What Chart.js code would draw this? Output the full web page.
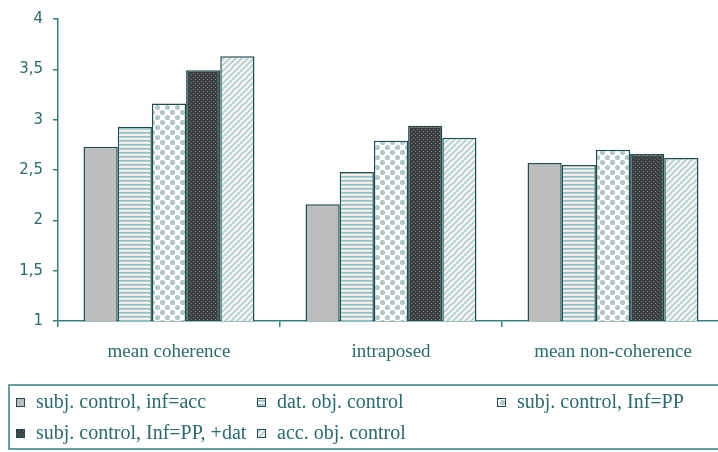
<!DOCTYPE html>
<html lang="en">
<head>
    <meta charset="utf-8">
    <title>coherence chart</title>
    <style>
        html, body { margin: 0; padding: 0; background: #fff; overflow: hidden; }
        #wrap { width: 728px; height: 452px; }
    </style>
</head>
<body>
    <div id="wrap"><canvas id="myChart" width="728" height="452"></canvas></div>

    <script src="https://cdn.jsdelivr.net/npm/chart.js"></script>
    <script>
        // data
        const categories = ['mean coherence', 'intraposed', 'mean non-coherence'];
        const seriesNames = [
            'subj. control, inf=acc',
            'dat. obj. control',
            'subj. control, Inf=PP',
            'subj. control, Inf=PP, +dat',
            'acc. obj. control'
        ];
        const subjInfAcc   = [2.73, 2.16, 2.57];
        const datObj       = [2.93, 2.48, 2.55];
        const subjInfPP    = [3.16, 2.79, 2.70];
        const subjInfPPDat = [3.49, 2.94, 2.66];
        const accObj       = [3.63, 2.82, 2.62];
        const yMin = 1, yMax = 4, yStep = 0.5;

        const lineColor = '#34807f';
        const textColor = '#2a6b6b';
        const edgeColor = '#1d4d4d';

        function makePattern(w, h, paint) {
            var c = document.createElement('canvas');
            c.width = w; c.height = h;
            var g = c.getContext('2d');
            paint(g, w, h);
            return g.createPattern(c, 'repeat');
        }

        var fills = [
            '#bdbdbd',
            makePattern(4, 4, function (g) {
                g.fillStyle = '#fbeaea'; g.fillRect(0, 0, 4, 4);
                g.fillStyle = '#86c4c4'; g.fillRect(0, 0, 4, 1.6);
            }),
            makePattern(10, 10, function (g) {
                g.fillStyle = '#ffffff'; g.fillRect(0, 0, 10, 10);
                g.fillStyle = '#b4c6c6';
                g.beginPath(); g.arc(2.5, 2.5, 2.6, 0, Math.PI * 2); g.fill();
                g.beginPath(); g.arc(7.5, 7.5, 2.6, 0, Math.PI * 2); g.fill();
            }),
            makePattern(4, 4, function (g) {
                g.fillStyle = '#2c4848'; g.fillRect(0, 0, 4, 4);
                g.fillStyle = '#d84a4a';
                g.fillRect(1, 1, 1, 1);
                g.fillRect(3, 3, 1, 1);
            }),
            makePattern(6, 6, function (g) {
                g.fillStyle = '#fbf0f0'; g.fillRect(0, 0, 6, 6);
                g.strokeStyle = '#a9d4d4'; g.lineWidth = 1.6;
                g.beginPath();
                g.moveTo(-1, 7); g.lineTo(7, -1);
                g.moveTo(-4, 4); g.lineTo(4, -4);
                g.moveTo(2, 10); g.lineTo(10, 2);
                g.stroke();
            })
        ];

        var values = [subjInfAcc, datObj, subjInfPP, subjInfPPDat, accObj];
        var datasets = values.map(function (v, i) {
            return {
                label: seriesNames[i],
                data: v,
                backgroundColor: fills[i],
                borderColor: edgeColor,
                borderWidth: 1.5,
                borderSkipped: 'bottom',
                barPercentage: 1.0,
                categoryPercentage: 0.77
            };
        });

        // legend in a box, three columns
        const boxLegend = {
            id: 'boxLegend',
            afterDraw: function (chart) {
                var ctx = chart.ctx;
                ctx.save();
                ctx.strokeStyle = lineColor;
                ctx.lineWidth = 1.5;
                ctx.strokeRect(9, 385, 740, 64);
                var cols = [16, 257, 497];
                var rows = [402, 433];
                ctx.font = '20px "Liberation Serif"';
                ctx.textBaseline = 'middle';
                chart.data.datasets.forEach(function (ds, i) {
                    var x = cols[i % 3], y = rows[Math.floor(i / 3)];
                    ctx.fillStyle = ds.backgroundColor;
                    ctx.fillRect(x, y - 4, 8, 8);
                    ctx.strokeStyle = edgeColor;
                    ctx.lineWidth = 1;
                    ctx.strokeRect(x + 0.5, y - 3.5, 8, 8);
                    ctx.fillStyle = textColor;
                    ctx.fillText(ds.label, x + 20, y + 1);
                });
                ctx.restore();
            }
        };

        const config = {
            type: 'bar',
            data: { labels: categories, datasets: datasets },
            options: {
                responsive: false,
                animation: false,
                layout: { padding: { top: 6, right: 4, left: 0, bottom: 0 } },
                plugins: { legend: { display: false }, tooltip: { enabled: false } },
                scales: {
                    x: {
                        afterFit: function (s) { s.height = 131; },
                        grid: { display: true, drawOnChartArea: false, drawTicks: true, tickLength: 6, color: lineColor, lineWidth: 1.5 },
                        border: { display: true, color: lineColor, width: 1.5 },
                        ticks: { color: textColor, padding: 14, font: { family: 'Liberation Serif', size: 19 } }
                    },
                    y: {
                        min: yMin, max: yMax,
                        afterFit: function (s) { s.width = 58; },
                        grid: { display: true, drawOnChartArea: false, drawTicks: true, tickLength: 5, color: lineColor, lineWidth: 1.5 },
                        border: { display: true, color: lineColor, width: 1.5 },
                        ticks: {
                            stepSize: yStep, padding: 10, color: textColor,
                            font: { family: 'DejaVu Sans', size: 15 },
                            callback: function (v) { return String(v).replace('.', ','); }
                        }
                    }
                }
            },
            plugins: [boxLegend]
        };

        const myChart = new Chart(document.getElementById('myChart'), config);
    </script>
</body>
</html>
